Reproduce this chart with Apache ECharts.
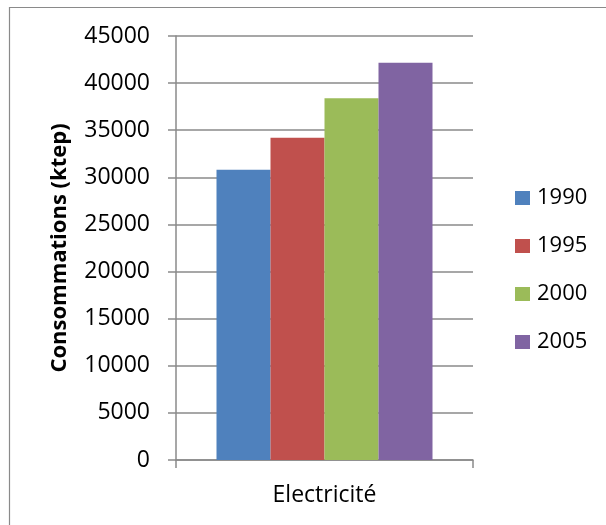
<!DOCTYPE html>
<html>
<head>
<meta charset="utf-8">
<script src="https://cdn.jsdelivr.net/npm/echarts@6/dist/echarts.min.js"></script>
<style>
  html, body { margin: 0; padding: 0; background: #fff; }
  #chart { width: 606px; height: 525px; }
</style>
</head>
<body>
<div id="chart"></div>
<script>
// Electricity consumption (ktep) by year
const categories = ['Electricité'];
const years = ['1990', '1995', '2000', '2005'];
const values1990 = [30800];
const values1995 = [34200];
const values2000 = [38400];
const values2005 = [42150];
const yTicks = { min: 0, max: 45000, interval: 5000 };
const yTitle = 'Consommations (ktep)';

const colors = ['#4F81BD', '#C0504D', '#9BBB59', '#8064A2'];
const seriesValues = [values1990, values1995, values2000, values2005];
const FONT = 'Open Sans';
const axisGray = '#8a8a8a';

const chart = echarts.init(document.getElementById('chart'), null, { renderer: 'canvas' });

chart.setOption({
  animation: false,
  color: colors,
  textStyle: { fontFamily: FONT, color: '#000' },
  grid: { left: 176, right: 133, top: 36, bottom: 65, containLabel: false },
  graphic: [{
    type: 'rect',
    shape: { x: 9.5, y: 7.5, width: 640, height: 560 },
    style: { fill: 'none', stroke: axisGray, lineWidth: 1.2 },
    silent: true
  }],
  legend: {
    orient: 'vertical',
    left: 510,
    top: 182,
    itemWidth: 15,
    itemHeight: 14,
    itemGap: 26,
    icon: 'rect',
    data: years,
    textStyle: { fontFamily: FONT, fontSize: 22, lineHeight: 22, color: '#000', padding: [0, 0, 0, 2] }
  },
  xAxis: {
    type: 'category',
    data: categories,
    axisLine: { show: true, lineStyle: { color: axisGray, width: 1.5 } },
    axisTick: { show: true, length: 8, alignWithLabel: false, lineStyle: { color: axisGray, width: 1.5 } },
    axisLabel: { fontFamily: FONT, fontSize: 23, color: '#000', margin: 24 }
  },
  yAxis: {
    type: 'value',
    min: yTicks.min,
    max: yTicks.max,
    interval: yTicks.interval,
    name: yTitle,
    nameLocation: 'middle',
    nameRotate: 90,
    nameGap: 105,
    nameTextStyle: { fontFamily: FONT, fontSize: 22, fontWeight: 'bold', color: '#000' },
    axisLine: { show: true, lineStyle: { color: axisGray, width: 1.5 } },
    axisTick: { show: true, length: 8, inside: false, lineStyle: { color: axisGray, width: 1.5 } },
    axisLabel: { fontFamily: FONT, fontSize: 23, color: '#000', margin: 26, formatter: v => String(v) },
    splitLine: { show: true, lineStyle: { color: axisGray, width: 1.5 } }
  },
  series: years.map((y, i) => ({
    name: y,
    type: 'bar',
    data: seriesValues[i],
    barWidth: 54,
    barGap: '0%',
    itemStyle: { color: colors[i] }
  }))
});
</script>
</body>
</html>
